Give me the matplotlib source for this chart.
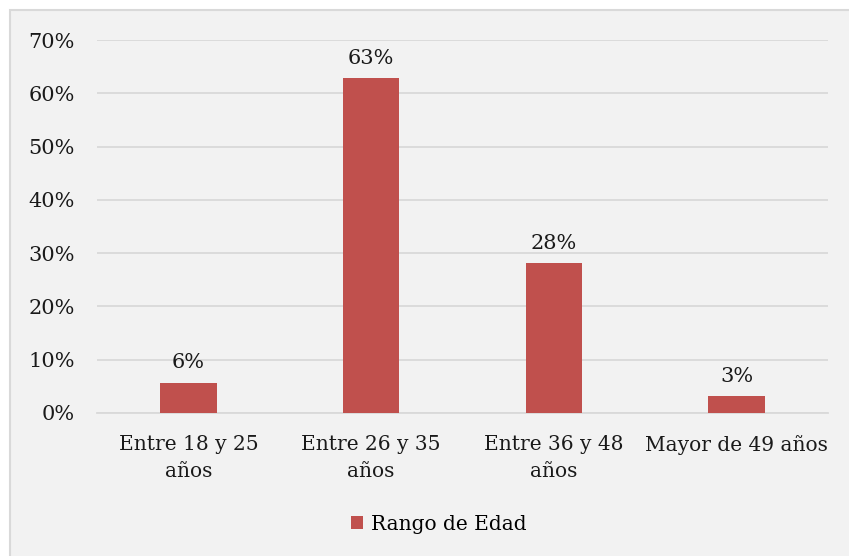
import matplotlib
matplotlib.use("Agg")
import matplotlib.pyplot as plt
from matplotlib.patches import Rectangle
from matplotlib.ticker import PercentFormatter

categories = ["Entre 18 y 25\naños", "Entre 26 y 35\naños", "Entre 36 y 48\naños", "Mayor de 49 años"]
values = [0.057, 0.628, 0.281, 0.031]
series_name = "Rango de Edad"
y_ticks = [0.0, 0.1, 0.2, 0.3, 0.4, 0.5, 0.6, 0.7]

bar_color = "#C0504D"
bg_color = "#F2F2F2"
grid_color = "#D9D9D9"
text_color = "#1a1a1a"

plt.rcParams["font.family"] = ["DejaVu Serif"]

W, H = 849, 556
fig = plt.figure(figsize=(W / 100, H / 100), dpi=100, facecolor="white")

# Chart frame: light gray fill with a thin border, running past the right/bottom edges
frame = Rectangle((9.5 / W, -0.05), 1, 1.05 - 10.5 / H, transform=fig.transFigure,
                  facecolor=bg_color, edgecolor=grid_color, linewidth=1.5, zorder=-10)
fig.patches.append(frame)

ax = fig.add_axes([97 / W, (H - 413) / H, (828 - 97) / W, (413 - 40) / H])
ax.set_facecolor("none")
ax.set_zorder(5)

x = range(len(categories))
bars = ax.bar(x, values, width=0.31, color=bar_color, label=series_name, zorder=3)

for xi, v in zip(x, values):
    ax.text(xi, v + 0.02, f"{v:.0%}", ha="center", va="bottom", fontsize=15, color=text_color)

ax.set_ylim(0, 0.7)
ax.set_xlim(-0.5, len(categories) - 0.5)
ax.set_yticks(y_ticks)
ax.yaxis.set_major_formatter(PercentFormatter(1.0, decimals=0))
ax.set_xticks(list(x))
ax.set_xticklabels(categories, fontsize=14.5, color=text_color, linespacing=1.5)
ax.tick_params(axis="y", labelsize=15, colors=text_color, length=0, pad=16)
ax.tick_params(axis="x", length=0, pad=16)

ax.grid(axis="y", color=grid_color, linewidth=1.3, zorder=0)
for side in ["top", "right", "left"]:
    ax.spines[side].set_visible(False)
ax.spines["bottom"].set_color(grid_color)
ax.spines["bottom"].set_linewidth(1.3)

leg = fig.legend(handles=[bars], labels=[series_name], loc="center",
                 bbox_to_anchor=(439 / W, 1 - 524 / H), frameon=False, fontsize=14.5,
                 handlelength=0.6, handleheight=0.6, handletextpad=0.4)
leg.set_zorder(6)

fig.savefig("out.png", dpi=100, facecolor="white")
